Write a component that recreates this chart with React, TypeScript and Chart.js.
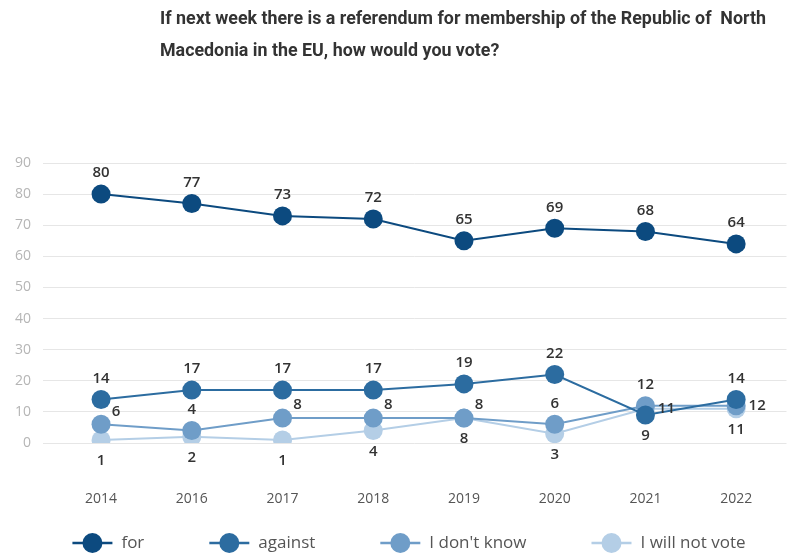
import React, { useEffect, useRef } from "react";
import { Chart, registerables } from "chart.js";

Chart.register(...registerables);

const years = ["2014", "2016", "2017", "2018", "2019", "2020", "2021", "2022"];
const forVals = [80, 77, 73, 72, 65, 69, 68, 64];
const againstVals = [14, 17, 17, 17, 19, 22, 9, 14];
const dontKnowVals = [6, 4, 8, 8, 8, 6, 12, 12];
const willNotVoteVals = [1, 2, 1, 4, 8, 3, 11, 11];
const seriesNames = ["for", "against", "I don't know", "I will not vote"];
const yTickValues = [0, 10, 20, 30, 40, 50, 60, 70, 80, 90];
const titleLines = [
  "If next week there is a referendum for membership of the Republic of  North",
  "Macedonia in the EU, how would you vote?",
];

const seriesValues = [forVals, againstVals, dontKnowVals, willNotVoteVals];
const colors = ["#0c4a7f", "#2c6ca0", "#6f9dc8", "#b4cee6"];
const labelPos = [
  ["t", "t", "t", "t", "t", "t", "t", "t"],
  ["t", "t", "t", "t", "t", "t", "b", "t"],
  ["tr", "t", "tr", "tr", "tr", "t", "t", "r"],
  ["b", "b", "b", "b", "b", "b", "r", "b"],
];

const labelPlugin = {
  id: "valueLabels",
  afterDatasetsDraw(chart: any) {
    const ctx = chart.ctx;
    ctx.save();
    ctx.font = '600 15px "Open Sans", sans-serif';
    ctx.fillStyle = "#333333";
    ctx.textAlign = "center";
    ctx.textBaseline = "middle";
    chart.data.datasets.forEach((_ds: any, di: number) => {
      const meta = chart.getDatasetMeta(di);
      meta.data.forEach((pt: any, i: number) => {
        const pos = labelPos[di][i];
        let dx = 0;
        let dy = 0;
        if (pos === "t") dy = -21;
        else if (pos === "b") dy = 21;
        else if (pos === "r") dx = 21;
        else if (pos === "tr") {
          dx = 15;
          dy = -13;
        }
        ctx.fillText(String(seriesValues[di][i]), pt.x + dx, pt.y + dy);
      });
    });
    ctx.restore();
  },
};

const legendPlugin = {
  id: "customLegend",
  afterDraw(chart: any) {
    const ctx = chart.ctx;
    ctx.save();
    ctx.font = '17px "Open Sans", sans-serif';
    ctx.textBaseline = "middle";
    ctx.textAlign = "left";
    const sym = 40;
    const gapText = 9;
    const gap = 65;
    const widths = seriesNames.map((n) => sym + gapText + ctx.measureText(n).width);
    const total = widths.reduce((a, b) => a + b, 0) + gap * (widths.length - 1);
    const cx = 409;
    const y = 543;
    let x = cx - total / 2;
    seriesNames.forEach((n, i) => {
      ctx.strokeStyle = colors[i];
      ctx.lineWidth = 2.5;
      ctx.beginPath();
      ctx.moveTo(x, y);
      ctx.lineTo(x + sym, y);
      ctx.stroke();
      ctx.fillStyle = colors[i];
      ctx.beginPath();
      ctx.arc(x + sym / 2, y, 10, 0, Math.PI * 2);
      ctx.fill();
      ctx.fillStyle = "#555555";
      ctx.fillText(n, x + sym + gapText, y);
      x += widths[i] + gap;
    });
    ctx.restore();
  },
};

export default function App() {
  const ref = useRef<HTMLCanvasElement>(null);
  const titleRef = useRef<HTMLDivElement>(null);
  const firstLineRef = useRef<HTMLDivElement>(null);
  useEffect(() => {
    const t = titleRef.current;
    const f = firstLineRef.current;
    if (t && f) {
      const w = f.getBoundingClientRect().width;
      if (w > 0) t.style.transform = `scaleX(${606 / w})`;
    }
    const chart = new Chart(ref.current!, {
      type: "line",
      data: {
        datasets: seriesValues.map((vals, di) => ({
          label: seriesNames[di],
          data: vals.map((v, i) => ({ x: i, y: v })),
          borderColor: colors[di],
          backgroundColor: colors[di],
          borderWidth: 2,
          pointRadius: 9.5,
          pointBorderWidth: 0,
          pointBackgroundColor: colors[di],
          tension: 0,
        })),
      },
      options: {
        responsive: false,
        animation: false,
        events: [],
        layout: { padding: { top: 163, left: 0, right: 0, bottom: 0 } },
        scales: {
          x: {
            type: "linear",
            min: -0.64,
            max: 7.555,
            grid: { display: false },
            border: { display: false },
            afterBuildTicks: (s: any) => {
              s.ticks = years.map((_, i) => ({ value: i }));
            },
            afterFit: (s: any) => {
              s.height = 111;
            },
            ticks: {
              padding: 40,
              autoSkip: false,
              maxRotation: 0,
              color: "#555555",
              font: { family: '"Open Sans", sans-serif', size: 14 },
              callback: (v: any) => years[v as number] ?? "",
            },
          },
          y: {
            min: 0,
            max: 90,
            afterBuildTicks: (s: any) => {
              s.ticks = yTickValues.map((v) => ({ value: v }));
            },
            afterFit: (s: any) => {
              s.width = 43;
            },
            grid: { color: "#e6e6e6", drawTicks: false, lineWidth: 1 },
            border: { display: false },
            ticks: {
              padding: 12,
              autoSkip: false,
              color: "#b5b5b5",
              font: { family: '"Open Sans", sans-serif', size: 14 },
            },
          },
        },
        plugins: {
          title: { display: false },
          tooltip: { enabled: false },
          legend: { display: false },
        },
      },
      plugins: [labelPlugin, legendPlugin],
    } as any);
    return () => chart.destroy();
  }, []);

  return (
    <div style={{ position: "fixed", left: 0, top: 0, width: 796, height: 554, overflow: "hidden", background: "#fff" }}>
      <canvas ref={ref} width={796} height={554} style={{ position: "absolute", left: 0, top: 0 }} />
      <div
        ref={titleRef}
        style={{
          position: "absolute",
          left: 160,
          top: 2,
          transformOrigin: "0 0",
          font: '700 18px Roboto, "Noto Sans", sans-serif',
          lineHeight: "32px",
          color: "#333333",
          whiteSpace: "pre",
          width: "max-content",
        }}
      >
        {titleLines.map((l, i) => (
          <div key={i} ref={i === 0 ? firstLineRef : undefined} style={{ width: "max-content" }}>
            {l}
          </div>
        ))}
      </div>
    </div>
  );
}
